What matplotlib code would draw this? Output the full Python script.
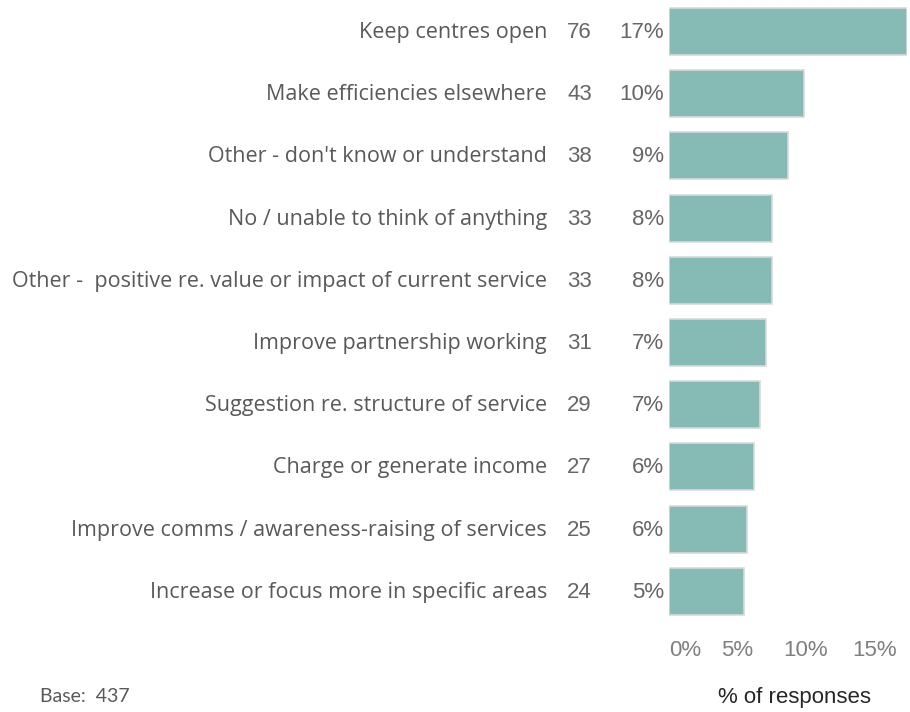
import matplotlib
matplotlib.use("Agg")
import matplotlib.pyplot as plt
from matplotlib.transforms import ScaledTranslation

categories = [
    "Keep centres open",
    "Make efficiencies elsewhere",
    "Other - don't know or understand",
    "No / unable to think of anything",
    "Other -  positive re. value or impact of current service",
    "Improve partnership working",
    "Suggestion re. structure of service",
    "Charge or generate income",
    "Improve comms / awareness-raising of services",
    "Increase or focus more in specific areas",
]
counts = [76, 43, 38, 33, 33, 31, 29, 27, 25, 24]
base = 437
pct_labels = ["17%", "10%", "9%", "8%", "8%", "7%", "7%", "6%", "6%", "5%"]
ticks = [0, 5, 10, 15]
tick_labels = ["0%", "5%", "10%", "15%"]

pct = [c / base * 100 for c in counts]

W, H = 910, 712
fig = plt.figure(figsize=(W / 100, H / 100), dpi=100)
x0, x1 = 669, 907
ytop, ybot = 0, 625
ax = fig.add_axes([x0 / W, 1 - ybot / H, (x1 - x0) / W, (ybot - ytop) / H])
step = 62.2
c0 = 31.5
ax.set_ylim((ybot - c0) / step, (ytop - c0) / step)
ax.set_xlim(0, max(pct))

ypos = list(range(len(categories)))
ax.barh(ypos, pct, height=0.755, color="#86bbb5", edgecolor="#d9d9d9", linewidth=1.2)

for s in ax.spines.values():
    s.set_visible(False)
ax.set_yticks([])
ax.set_xticks(ticks)
ax.set_xticklabels(tick_labels, fontsize=16, color="#7f7f7f", family="Liberation Sans")
ax.tick_params(axis="x", length=0, pad=11)
lbls = ax.get_xticklabels()
lbls[0].set_transform(lbls[0].get_transform() + ScaledTranslation(16 / 100, 0, fig.dpi_scale_trans))

def px(x):
    return x / W

for i, (cat, n, p) in enumerate(zip(categories, counts, pct_labels)):
    yf = 1 - (c0 + step * i + 1) / H
    fig.text(px(547), yf, cat, ha="right", va="center", fontsize=15.5, color="#595959", family="Open Sans")
    fig.text(px(592), yf, str(n), ha="right", va="center", fontsize=16, color="#666666", family="Liberation Sans")
    fig.text(px(664), yf, p, ha="right", va="center", fontsize=16, color="#666666", family="Liberation Sans")

fig.text(px(794), 1 - 697 / H, "% of responses", ha="center", va="center", fontsize=16, color="#262626", family="Liberation Sans")
fig.text(px(40), 1 - 697 / H, "Base:  437", ha="left", va="center", fontsize=14, color="#595959", family="Lato")

fig.savefig("out.png", dpi=100)
